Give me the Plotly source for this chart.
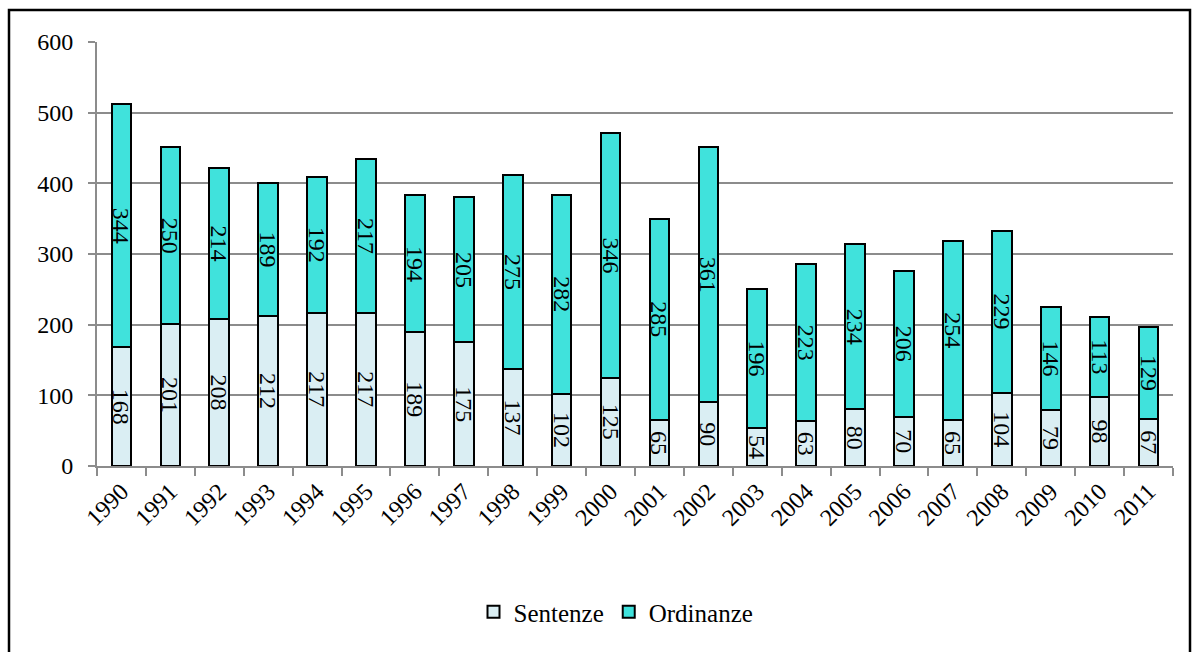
import plotly.graph_objects as go

years = [str(y) for y in range(1990, 2012)]
sentenze = [168, 201, 208, 212, 217, 217, 189, 175, 137, 102, 125, 65, 90, 54, 63, 80, 70, 65, 104, 79, 98, 67]
ordinanze = [344, 250, 214, 189, 192, 217, 194, 205, 275, 282, 346, 285, 361, 196, 223, 234, 206, 254, 229, 146, 113, 129]
y_ticks = [0, 100, 200, 300, 400, 500, 600]

FONT = "Liberation Serif, Times New Roman, serif"
GRID = "#8c8c8c"

# plot area in pixels
W, H = 1194, 652
L, R, T, B = 97, 21, 42, 186
pw, ph = W - L - R, H - T - B


def px_x(x):
    return (x - L) / pw


def px_y(y):
    return (H - B - y) / ph


fig = go.Figure()
for name, vals, color in [("Sentenze", sentenze, "#DAEEF3"), ("Ordinanze", ordinanze, "#40E2DC")]:
    fig.add_trace(go.Bar(
        x=years, y=vals, name=name,
        marker=dict(color=color, line=dict(color="black", width=2)),
        text=[str(v) for v in vals],
        textposition="inside",
        insidetextanchor="middle",
        textangle=90,
        constraintext="none",
        textfont=dict(family=FONT, size=24, color="black"),
        cliponaxis=False,
    ))

fig.update_layout(
    barmode="stack",
    bargap=0.6,
    width=W, height=H,
    margin=dict(l=L, r=R, t=T, b=B),
    paper_bgcolor="white",
    plot_bgcolor="white",
    font=dict(family=FONT, size=24, color="black"),
    uniformtext=dict(minsize=24, mode="show"),
    showlegend=True,
    legend=dict(
        orientation="h", x=px_x(616), xanchor="center", y=px_y(612), yanchor="middle",
        font=dict(family=FONT, size=25, color="black"),
        itemwidth=30, traceorder="normal",
    ),
    shapes=[dict(
        type="rect", xref="paper", yref="paper",
        x0=px_x(9), x1=px_x(1190), y0=px_y(662), y1=px_y(10),
        line=dict(color="black", width=2.5), layer="above",
    )],
)

fig.update_xaxes(
    type="category",
    tickangle=-45,
    ticks="outside", ticklen=8, tickcolor=GRID, tickwidth=2,
    tickson="boundaries",
    showline=True, linecolor=GRID, linewidth=2,
    showgrid=False,
    tickfont=dict(family=FONT, size=24, color="black"),
)
fig.update_yaxes(
    range=[0, 600],
    tickvals=y_ticks,
    ticks="outside", ticklen=7, tickcolor=GRID, tickwidth=2,
    ticklabelstandoff=10,
    showline=True, linecolor=GRID, linewidth=2,
    showgrid=True, gridcolor=GRID, gridwidth=2,
    zeroline=False,
    tickfont=dict(family=FONT, size=24, color="black"),
)

fig.write_html("out.html")
